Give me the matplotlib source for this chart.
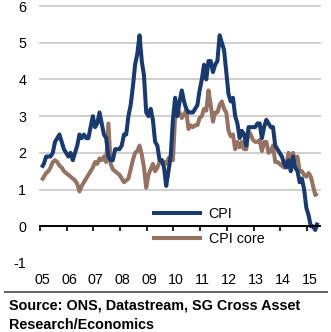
import matplotlib
matplotlib.use("Agg")
import matplotlib.pyplot as plt
import numpy as np

# Monthly data, Jan 2005 - May 2015 (% y/y)
cpi = [
    1.6, 1.7, 1.9, 1.9, 1.9, 2.0, 2.3, 2.4, 2.5, 2.3, 2.1, 2.0,   # 2005
    1.9, 2.0, 1.8, 2.0, 2.2, 2.5, 2.4, 2.5, 2.4, 2.4, 2.7, 3.0,   # 2006
    2.7, 2.8, 3.1, 2.8, 2.5, 2.4, 1.9, 1.8, 1.8, 2.1, 2.1, 2.1,   # 2007
    2.2, 2.5, 2.5, 3.0, 3.3, 3.8, 4.4, 4.7, 5.2, 4.5, 4.1, 3.1,   # 2008
    3.0, 3.2, 2.9, 2.3, 2.2, 1.8, 1.8, 1.6, 1.1, 1.5, 1.9, 2.9,   # 2009
    3.5, 3.0, 3.4, 3.7, 3.4, 3.2, 3.1, 3.1, 3.1, 3.2, 3.3, 3.7,   # 2010
    4.0, 4.4, 4.0, 4.5, 4.5, 4.2, 4.4, 4.5, 5.2, 5.0, 4.8, 4.2,   # 2011
    3.6, 3.4, 3.5, 3.0, 2.8, 2.4, 2.6, 2.5, 2.2, 2.7, 2.7, 2.7,   # 2012
    2.7, 2.8, 2.8, 2.4, 2.7, 2.9, 2.8, 2.7, 2.7, 2.2, 2.1, 2.0,   # 2013
    1.9, 1.7, 1.6, 1.8, 1.5, 1.9, 1.6, 1.5, 1.2, 1.3, 1.0, 0.5,   # 2014
    0.3, 0.0, 0.0, -0.1, 0.1,                                     # 2015
]
cpi_core = [
    1.25, 1.35, 1.45, 1.5, 1.6, 1.75, 1.8, 1.75, 1.65, 1.6, 1.5, 1.45,   # 2005
    1.4, 1.35, 1.3, 1.25, 1.15, 0.95, 1.1, 1.2, 1.3, 1.4, 1.5, 1.6,      # 2006
    1.75, 1.7, 1.85, 1.8, 1.9, 1.75, 2.8, 1.7, 1.55, 1.5, 1.45, 1.4,     # 2007
    1.3, 1.2, 1.25, 1.3, 1.55, 1.8, 2.0, 2.05, 2.2, 1.95, 1.6, 1.05,     # 2008
    1.4, 1.55, 1.7, 1.5, 1.6, 1.75, 1.8, 1.75, 1.7, 1.85, 1.9, 1.8,      # 2009
    3.0, 3.05, 3.1, 2.95, 3.05, 3.15, 2.65, 2.75, 2.7, 2.75, 2.75, 2.95, # 2010
    3.0, 3.2, 3.15, 3.7, 3.3, 2.85, 3.1, 3.1, 3.3, 3.4, 3.2, 3.1,        # 2011
    2.6, 2.45, 2.5, 2.1, 2.3, 2.15, 2.3, 2.1, 2.1, 2.6, 2.5, 2.35,       # 2012
    2.3, 2.3, 2.35, 2.05, 2.3, 2.3, 2.0, 2.05, 2.2, 1.75, 1.75, 1.7,     # 2013
    1.65, 1.6, 1.7, 2.0, 1.7, 2.0, 1.8, 1.9, 1.5, 1.5, 1.4, 1.35,        # 2014
    1.45, 1.35, 1.1, 0.85, 0.9,                                          # 2015
]
year_ticks = list(range(2005, 2016))
year_labels = ["05", "06", "07", "08", "09", "10", "11", "12", "13", "14", "15"]
y_ticks = [-1, 0, 1, 2, 3, 4, 5, 6]
series_labels = ["CPI", "CPI core"]
source_text = "Source: ONS, Datastream, SG Cross Asset\nResearch/Economics"

plt.rcParams['font.family'] = ['Liberation Sans', 'DejaVu Sans']

W, H = 331, 332
fig = plt.figure(figsize=(W / 100, H / 100), dpi=100)
ax = fig.add_axes([40 / W, 1 - 263 / H, 280 / W, 257 / H])

t = 2005 + (np.arange(len(cpi)) + 0.75) / 12.0

navy = "#193A6E"
brown = "#957262"
grid_c = "#CBCBCB"

for y in y_ticks:
    if y >= 1:
        ax.axhline(y, color=grid_c, lw=1.3, zorder=1, clip_on=False)

l1, = ax.plot(t, cpi, color=navy, lw=2.9, zorder=4, solid_joinstyle='round',
              solid_capstyle='butt', label=series_labels[0])
l2, = ax.plot(t, cpi_core, color=brown, lw=2.9, zorder=3, solid_joinstyle='round',
              solid_capstyle='butt', label=series_labels[1])

ax.set_xlim(2005.0, 2015.49)
ax.set_ylim(-1, 6)

for s in ['top', 'right', 'left']:
    ax.spines[s].set_visible(False)
ax.spines['bottom'].set_position(('data', 0))
ax.spines['bottom'].set_linewidth(1.4)
ax.spines['bottom'].set_color('black')
ax.spines['bottom'].set_zorder(5)

ax.set_xticks(year_ticks)
ax.tick_params(axis='x', direction='out', length=3.5, width=1.2, color='black',
               labelbottom=False)

ax.set_yticks(y_ticks)
ax.set_yticklabels([str(v) for v in y_ticks])
ax.tick_params(axis='y', length=0, pad=10, labelsize=10.3)

sec = ax.secondary_xaxis(0)
sec.set_xticks([y + 0.09 for y in year_ticks])
sec.set_xticklabels(year_labels)
sec.tick_params(length=0, pad=7.5, labelsize=10.3)
sec.spines['bottom'].set_visible(False)

leg = ax.legend(handles=[l1, l2], loc='upper left',
                bbox_to_anchor=(152 / W, 1 - 207 / H), bbox_transform=fig.transFigure,
                frameon=False, borderaxespad=0, borderpad=0, fontsize=10.3,
                handlelength=3.5, handletextpad=0.45, labelspacing=0.8)

fig.add_artist(plt.Line2D([5 / W, 327 / W], [1 - 292 / H, 1 - 292 / H],
                          transform=fig.transFigure, color="#555555", lw=1.3))
fig.text(9 / W, 1 - 298.5 / H, source_text, ha='left', va='top', fontsize=10.4,
         fontweight='bold', linespacing=1.5)

fig.savefig("out.png", dpi=100)
